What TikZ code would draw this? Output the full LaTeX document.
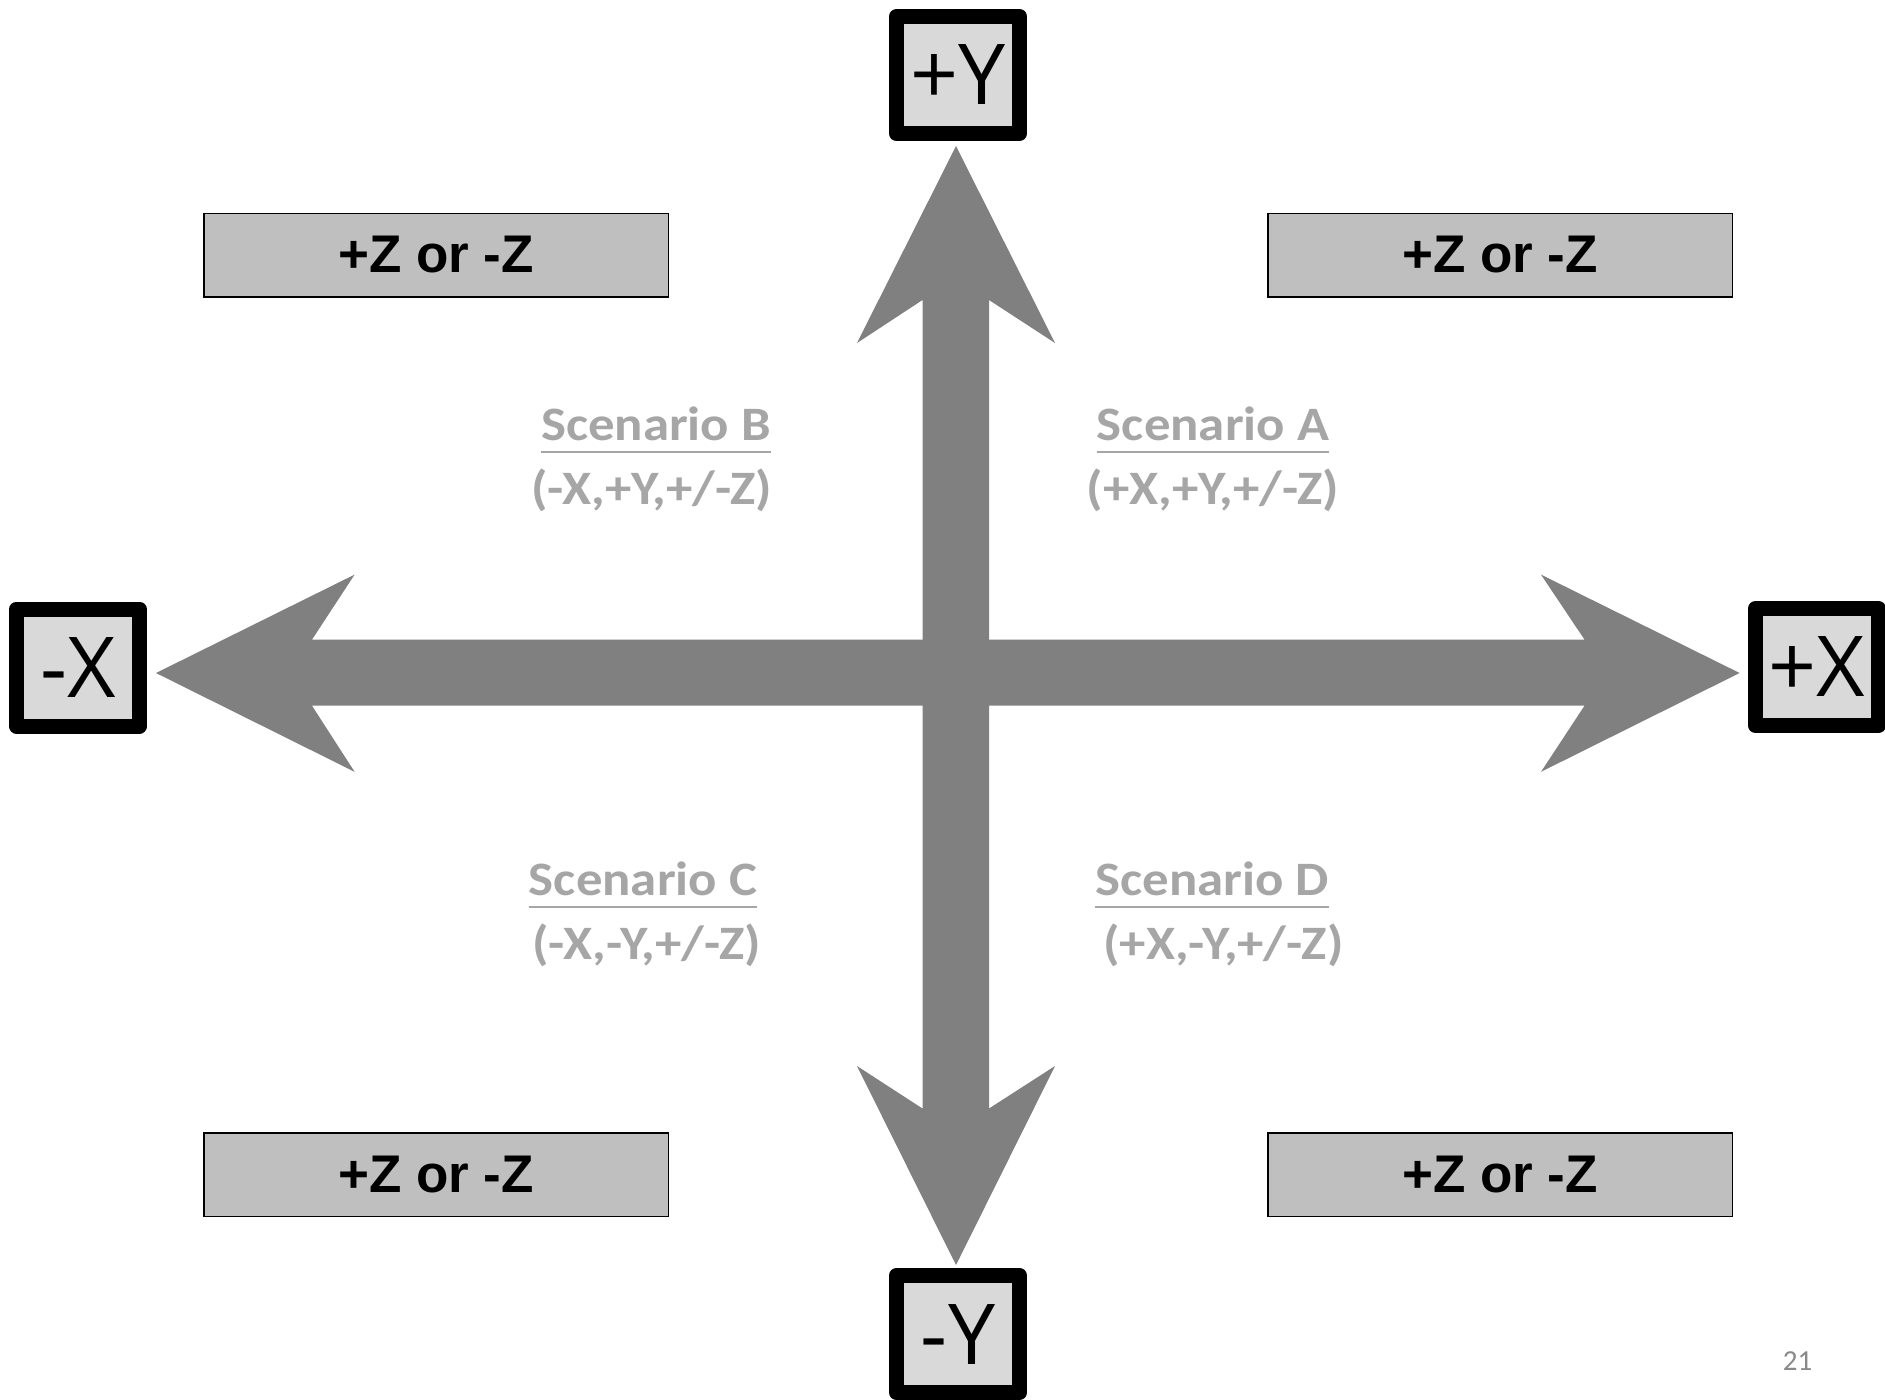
\documentclass[tikz,border=0pt]{standalone}
\usepackage{fontspec}
\usetikzlibrary{calc}
\newfontfamily\axisfam{Open Sans}
\newfontfamily\zfam{Liberation Sans}
\newfontfamily\scenfam{Carlito}[FakeStretch=1.1]
\newfontfamily\pgfam{Carlito}
\definecolor{arrowgray}{HTML}{808080}
\definecolor{axisfill}{HTML}{D9D9D9}
\definecolor{zfill}{HTML}{BFBFBF}
\definecolor{scengray}{HTML}{A6A6A6}
\definecolor{pggray}{HTML}{898989}
\tikzset{
  axisbox/.style={draw=black, line width=7.5pt, fill=axisfill, line join=round,
    minimum width=61.5pt, minimum height=58.5pt, inner sep=0pt,
    font=\axisfam\fontsize{42}{50}\selectfont},
  zbox/.style={draw=black, line width=0.75pt, fill=zfill,
    minimum width=232.25pt, minimum height=41.75pt, inner sep=0pt,
    font=\zfam\bfseries\fontsize{26.5}{32}\selectfont},
  scen/.style={anchor=base, inner sep=0pt, text=scengray,
    font=\scenfam\bfseries\fontsize{24}{29}\selectfont},
  uline/.style={draw=scengray, line width=1.3pt},
  blockarrow/.style={fill=arrowgray, draw=none}
}
\begin{document}
\begin{tikzpicture}[x=0.5pt,y=-0.5pt]
\clip (0,0) rectangle (1885,1399);
\fill[white] (0,0) rectangle (1885,1399);

% axis end boxes
\node[axisbox] (py) at (958,75) {+Y};
\node[axisbox] (my) at (958,1334) {-Y};
\node[axisbox] (mx) at (78,667.5) {-X};
\node[axisbox] (px) at (1817,667) {+X};

% arrow tips
\coordinate (tipU) at (956,146);
\coordinate (tipD) at (956,1265);
\coordinate (tipL) at (156,673);
\coordinate (tipR) at (1739.6,673);

% horizontal double block arrow
\path[blockarrow] (tipL) -- ++(198.6,-98.4) -- ++(-42.6,65) -- (1584.5,639.6)
  -- ++(-43.5,-65) -- (tipR) -- ++(-198.6,98.8) -- ++(43.5,-66.1) -- (312,705.7)
  -- ++(42.6,66.1) -- cycle;
% vertical double block arrow
\path[blockarrow] (tipU) -- ++(99,197) -- ++(-66,-43) -- (989,1108.5)
  -- ++(66,-42.5) -- (tipD) -- ++(-99,-199) -- ++(65.5,42.5) -- (922.5,300)
  -- ++(-65.5,43) -- cycle;

% Z boxes
\node[zbox] (ztl) at (436,255) {+Z or -Z};
\node[zbox] (ztr) at (1500,255) {+Z or -Z};
\node[zbox] (zbl) at (436,1174.5) {+Z or -Z};
\node[zbox] (zbr) at (1500,1174.7) {+Z or -Z};

% scenarios
\node[scen] (sB) at (656,440) {Scenario B};
\node[scen] (sB2) at (651.7,504) {(-X,+Y,+/-Z)};
\node[scen] (sA) at (1213,440) {Scenario A};
\node[scen] (sA2) at (1213,504) {(+X,+Y,+/-Z)};
\node[scen] (sC) at (643,895) {Scenario C};
\node[scen] (sC2) at (646.7,959) {(-X,-Y,+/-Z)};
\node[scen] (sD) at (1212.3,895) {Scenario D};
\node[scen] (sD2) at (1223.3,959) {(+X,-Y,+/-Z)};
\foreach \n in {sA,sB,sC,sD}{
  \draw[uline] ($(\n.base west)+(0,12)$) -- ($(\n.base east)+(0,12)$);
}

% page number
\node[anchor=base, inner sep=0pt, text=pggray, font=\pgfam\fontsize{14.5}{17}\selectfont] (pg) at (1797.5,1370.7) {21};
\end{tikzpicture}
\end{document}
